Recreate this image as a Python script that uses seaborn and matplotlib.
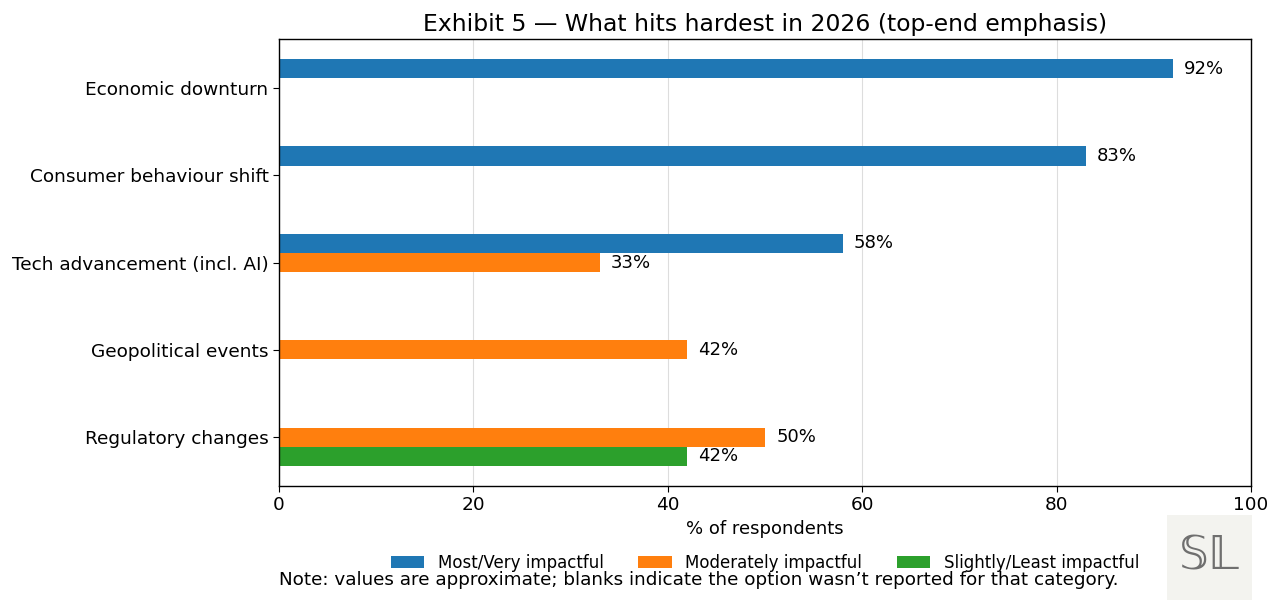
import numpy as np
import pandas as pd
import matplotlib.pyplot as plt
import seaborn as sns

# Data
categories = ["Economic downturn", "Consumer behaviour shift", "Tech advancement (incl. AI)",
              "Geopolitical events", "Regulatory changes"]
levels = ["Most/Very impactful", "Moderately impactful", "Slightly/Least impactful"]
most_very = [92, 83, 58, np.nan, np.nan]
moderately = [np.nan, np.nan, 33, 42, 50]
slightly = [np.nan, np.nan, np.nan, np.nan, 42]
colors = ["#1f77b4", "#ff7f0e", "#2ca02c"]

rows = []
for level, vals in zip(levels, [most_very, moderately, slightly]):
    for cat, v in zip(categories, vals):
        if not np.isnan(v):
            rows.append({"Category": cat, "Level": level, "Value": v})
df = pd.DataFrame(rows)

sns.set_style("white")
plt.rcParams['font.family'] = ['DejaVu Sans']
plt.rcParams['text.color'] = 'black'
plt.rcParams['axes.labelcolor'] = 'black'
plt.rcParams['xtick.color'] = 'black'
plt.rcParams['ytick.color'] = 'black'

fig = plt.figure(figsize=(12.8, 6), dpi=100)
ax = fig.add_axes([279 / 1280, 1 - 486 / 600, (1251 - 279) / 1280, (486 - 39) / 600])

sns.barplot(data=df, y="Category", x="Value", hue="Level", order=categories,
            hue_order=levels, palette=colors, width=0.66, orient="h", ax=ax,
            saturation=1, legend=True, edgecolor="none", linewidth=0)

for c in ax.containers:
    ax.bar_label(c, fmt="%.0f%%", padding=8, fontsize=13)

ax.set_xlim(0, 100)
ax.set_ylim(4.56, -0.56)
ax.set_xticks([0, 20, 40, 60, 80, 100])
ax.grid(axis="x", color="#dddddd", linewidth=0.8)
ax.set_axisbelow(True)
for s in ax.spines.values():
    s.set_visible(True)
    s.set_color("black")
    s.set_linewidth(1)
ax.tick_params(axis="both", labelsize=13.3, length=4, color="black", bottom=True, left=True)
ax.set_ylabel("")
ax.set_xlabel("% of respondents", fontsize=13)
ax.set_title("Exhibit 5 — What hits hardest in 2026 (top-end emphasis)", fontsize=16.9)

ax.legend(loc="center", bbox_to_anchor=(0.5, -0.172), ncol=3, frameon=False,
          fontsize=12, handlelength=2.0, handleheight=0.8, columnspacing=2.1)

fig.text(279 / 1280, 1 - 585 / 600,
         "Note: values are approximate; blanks indicate the option wasn’t reported for that category.",
         fontsize=13.2, ha="left", va="baseline")

# small logo box bottom-right
lax = fig.add_axes([1167 / 1280, 0, 85 / 1280, 85 / 600])
lax.set_facecolor("#f3f3ef")
lax.set_xticks([])
lax.set_yticks([])
for s in lax.spines.values():
    s.set_visible(False)
lax.text(0.5, 0.5, "𝕊𝕃", fontsize=34, color="#6f6f6f", ha="center", va="center",
         transform=lax.transAxes)

fig.savefig("out.png", dpi=100)
